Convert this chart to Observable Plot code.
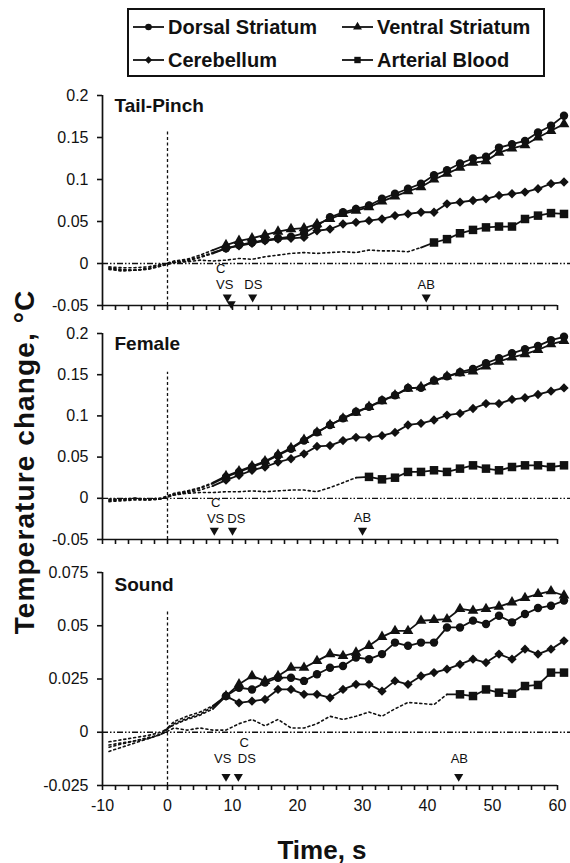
<!DOCTYPE html>
<html><head><meta charset="utf-8">
<script src="https://cdn.jsdelivr.net/npm/d3@7"></script>
<script src="https://cdn.jsdelivr.net/npm/@observablehq/plot@0.6"></script>
<style>
body{margin:0;background:#fff;}
#root{position:relative;width:570px;height:863px;overflow:hidden;font-family:"Liberation Sans",Arial,sans-serif;color:#111;}
.panel{position:absolute;left:0;}
.ytitle{position:absolute;left:25px;top:462px;transform:translate(-50%,-50%) rotate(-90deg);font-weight:bold;font-size:28px;letter-spacing:1.1px;white-space:nowrap;}
.xtitle{position:absolute;left:322px;top:850px;transform:translate(-50%,-50%);font-weight:bold;font-size:26px;white-space:nowrap;}
#legend{position:absolute;left:127px;top:8px;}
</style></head><body><div id="root"></div>
<script>
// ---- data ----
const times = [-9,-7,-5,-3,-1,1,3,5,7,9,11,13,15,17,19,21,23,25,27,29,31,33,35,37,39,41,43,45,47,49,51,53,55,57,59,61];
const seriesKeys = ["DS","VS","C","AB"];
const legendNames = ["Dorsal Striatum","Ventral Striatum","Cerebellum","Arterial Blood"];
const panelTitles = ["Tail-Pinch","Female","Sound"];
const xTickLabels = [-10,0,10,20,30,40,50,60];

// Tail-Pinch
const tpDS = [-0.006,-0.008,-0.008,-0.007,-0.003,0.002,0.004,0.008,0.013,0.018,0.022,0.025,0.028,0.030,0.032,0.036,0.045,0.055,0.061,0.065,0.069,0.077,0.083,0.089,0.095,0.105,0.111,0.119,0.125,0.127,0.138,0.142,0.146,0.156,0.164,0.176];
const tpVS = [-0.005,-0.007,-0.008,-0.006,-0.002,0.003,0.005,0.010,0.016,0.022,0.027,0.030,0.034,0.038,0.041,0.042,0.047,0.053,0.059,0.063,0.067,0.074,0.080,0.086,0.091,0.100,0.107,0.114,0.120,0.122,0.132,0.137,0.141,0.150,0.158,0.166];
const tpC  = [-0.007,-0.009,-0.008,-0.006,-0.003,0.001,0.003,0.007,0.012,0.018,0.021,0.024,0.027,0.029,0.030,0.031,0.039,0.041,0.047,0.049,0.051,0.053,0.057,0.059,0.061,0.061,0.071,0.073,0.075,0.077,0.081,0.083,0.085,0.089,0.095,0.097];
const tpAB = [-0.004,-0.005,-0.005,-0.004,-0.001,0.001,0.002,0.004,0.003,0.004,0.006,0.005,0.008,0.010,0.012,0.013,0.012,0.013,0.014,0.013,0.016,0.015,0.015,0.014,0.019,0.025,0.029,0.036,0.040,0.043,0.044,0.044,0.053,0.057,0.060,0.059];
// Female
const feDS = [-0.003,-0.002,-0.001,-0.002,-0.001,0.005,0.008,0.012,0.018,0.026,0.032,0.038,0.044,0.052,0.060,0.070,0.080,0.089,0.097,0.105,0.111,0.119,0.125,0.134,0.134,0.143,0.148,0.153,0.157,0.164,0.170,0.176,0.181,0.185,0.192,0.196];
const feVS = [-0.002,-0.001,0.000,-0.001,0.000,0.006,0.009,0.013,0.019,0.027,0.033,0.039,0.045,0.053,0.061,0.071,0.080,0.089,0.097,0.104,0.111,0.118,0.125,0.133,0.135,0.142,0.148,0.152,0.154,0.160,0.166,0.171,0.175,0.180,0.187,0.191];
const feC  = [-0.004,-0.003,-0.002,-0.002,-0.001,0.004,0.007,0.010,0.015,0.022,0.028,0.034,0.038,0.044,0.048,0.054,0.063,0.064,0.070,0.074,0.074,0.076,0.080,0.089,0.091,0.095,0.101,0.103,0.109,0.115,0.115,0.120,0.122,0.126,0.130,0.134];
const feAB = [-0.001,-0.001,0.000,-0.001,0.000,0.004,0.006,0.007,0.007,0.008,0.008,0.009,0.008,0.009,0.010,0.010,0.008,0.013,0.019,0.025,0.026,0.023,0.025,0.032,0.032,0.034,0.032,0.036,0.040,0.036,0.034,0.038,0.040,0.040,0.038,0.040];
// Sound
const soDS = [-0.007,-0.0055,-0.004,-0.0025,-0.001,0.004,0.0065,0.0085,0.012,0.017,0.0209,0.0201,0.0233,0.0256,0.0256,0.0241,0.0272,0.0303,0.0311,0.0351,0.0343,0.0367,0.0421,0.0406,0.0421,0.0421,0.0492,0.0492,0.0524,0.0508,0.0547,0.0516,0.0555,0.0583,0.0594,0.0618];
const soVS = [-0.009,-0.007,-0.005,-0.003,-0.001,0.005,0.0075,0.0095,0.0125,0.017,0.0225,0.0264,0.0241,0.0264,0.0303,0.0303,0.0335,0.0367,0.0358,0.0374,0.0406,0.0448,0.0476,0.0476,0.0524,0.0527,0.0531,0.0579,0.0571,0.0579,0.0590,0.0610,0.0631,0.0649,0.0662,0.0642];
const soC  = [-0.0045,-0.0035,-0.0025,-0.0015,0.000,0.0035,0.006,0.008,0.011,0.017,0.0138,0.0146,0.0154,0.0201,0.0201,0.0178,0.0178,0.0162,0.0201,0.0225,0.0225,0.0193,0.0241,0.0225,0.0264,0.0280,0.0296,0.0319,0.0343,0.0327,0.0367,0.0343,0.0390,0.0367,0.0390,0.0429];
const soAB = [-0.006,-0.005,-0.004,-0.003,-0.001,0.002,0.001,0.002,0.001,0.001,0.004,0.006,0.003,0.006,0.002,0.002,0.004,0.0075,0.006,0.0075,0.0095,0.0075,0.011,0.014,0.0135,0.013,0.0178,0.0178,0.0170,0.0201,0.0186,0.0181,0.0217,0.0222,0.0280,0.0280];

// last dotted point index (solid line starts here, markers after it)
const tpOnset = {DS:8, VS:8, C:8, AB:24};
const feOnset = {DS:8, VS:8, C:8, AB:19};
const soOnset = {DS:8, VS:8, C:8, AB:26};

// y ticks
const tpYTicks = [-0.05,0,0.05,0.1,0.15,0.2];
const feYTicks = [-0.05,0,0.05,0.1,0.15,0.2];
const soYTicks = [-0.025,0,0.025,0.05,0.075];

// latency arrows (time) and labels
const tpArrows = [{t:9.2,v:-0.040},{t:9.8,v:-0.048},{t:13.1,v:-0.040},{t:39.8,v:-0.040}];
const tpLabels = [{t:8.2,v:-0.0068,text:"C"},{t:8.8,v:-0.0252,text:"VS"},{t:13.2,v:-0.0252,text:"DS"},{t:39.8,v:-0.0252,text:"AB"}];
const feArrows = [{t:7.2,v:-0.039},{t:10.0,v:-0.039},{t:30,v:-0.039}];
const feLabels = [{t:7.4,v:-0.006,text:"C"},{t:7.4,v:-0.0245,text:"VS"},{t:10.6,v:-0.0245,text:"DS"},{t:30,v:-0.0235,text:"AB"}];
const soArrows = [{t:9.0,v:-0.0208},{t:10.9,v:-0.0208},{t:44.8,v:-0.0208}];
const soLabels = [{t:11.8,v:-0.0052,text:"C"},{t:8.5,v:-0.0127,text:"VS"},{t:12.2,v:-0.0127,text:"DS"},{t:44.9,v:-0.0127,text:"AB"}];

// ---- drawing ----
const symbols = {DS:"circle", VS:"triangle", C:"diamond2", AB:"square"};
const symR = {DS:4.2, VS:4.0, C:4.2, AB:4.8};
const INK = "#111";
const root = document.getElementById("root");

const panels = [
  {title:panelTitles[0], values:{DS:tpDS,VS:tpVS,C:tpC,AB:tpAB}, onset:tpOnset, domain:[-0.05,0.2], yticks:tpYTicks, stimTop:0.158, arrows:tpArrows, labels:tpLabels, top:80, inner:210, mb:12, titleDy:3, xlabels:false},
  {title:panelTitles[1], values:{DS:feDS,VS:feVS,C:feC,AB:feAB}, onset:feOnset, domain:[-0.05,0.2], yticks:feYTicks, stimTop:0.153, arrows:feArrows, labels:feLabels, top:318, inner:206, mb:12, titleDy:3, xlabels:false},
  {title:panelTitles[2], values:{DS:soDS,VS:soVS,C:soC,AB:soAB}, onset:soOnset, domain:[-0.025,0.075], yticks:soYTicks, stimTop:0.0575, arrows:soArrows, labels:soLabels, top:557, inner:213, mb:40, titleDy:5, xlabels:true}
];

function makePanel(p) {
  const rows = [];
  seriesKeys.forEach(k => {
    const vals = p.values[k];
    const on = p.onset[k];
    times.forEach((t, i) => rows.push({series:k, t, v:vals[i], i, on}));
  });
  const dotted = rows.filter(d => d.i <= d.on);
  const solid = rows.filter(d => d.i >= d.on);
  const marked = rows.filter(d => d.i > d.on);
  const [ymin] = p.domain;
  const mt = 15;
  const plot = Plot.plot({
    width: 570,
    height: mt + p.inner + p.mb,
    marginLeft: 102, marginRight: 13, marginTop: mt, marginBottom: p.mb,
    x: {domain: [-10, 60]},
    y: {domain: p.domain},
    style: {fontFamily: "Liberation Sans, Arial, sans-serif", fontSize: "16px", background: "transparent", overflow: "visible", color: INK},
    marks: [
      Plot.ruleY([0], {x1: -10, x2: 62, stroke: INK, strokeWidth: 1.3, strokeDasharray: "6,2,1.5,2,1.5,2"}),
      Plot.ruleX([0], {y1: ymin, y2: p.stimTop, stroke: INK, strokeWidth: 1.3, strokeDasharray: "3,2.5"}),
      Plot.line(dotted, {x: "t", y: "v", z: "series", stroke: INK, strokeWidth: 1.6, strokeDasharray: "2,3"}),
      Plot.line(solid, {x: "t", y: "v", z: "series", stroke: INK, strokeWidth: 1.8}),
      ...seriesKeys.map(k => Plot.dot(marked.filter(d => d.series === k), {x: "t", y: "v", symbol: symbols[k], r: symR[k], fill: INK, stroke: "none"})),
      Plot.dot(p.arrows, {x: "t", y: "v", symbol: "triangle", rotate: 180, r: 3.4, fill: INK, stroke: "none"}),
      Plot.text(p.labels, {x: "t", y: "v", text: "text", fontSize: 13, fill: INK}),
      Plot.text([p.title], {text: d => d, frameAnchor: "top-left", dx: 12, dy: p.titleDy, fontSize: 19, fontWeight: "bold", fill: INK}),
      Plot.ruleX([-10], {stroke: INK, strokeWidth: 1.7}),
      Plot.ruleY([ymin], {stroke: INK, strokeWidth: 1.7}),
      Plot.axisY({ticks: p.yticks, tickSize: 5, tickPadding: 9, tickFormat: d => String(d), fontSize: 16, label: null, stroke: INK, strokeWidth: 1.6, fill: INK}),
      Plot.axisX({ticks: d3.range(-10, 61, 2), tickSize: 5, tickPadding: 9,
        tickFormat: d => (p.xlabels && xTickLabels.includes(d)) ? String(d) : "",
        fontSize: 16, label: null, stroke: INK, strokeWidth: 1.6, fill: INK})
    ]
  });
  plot.classList.add("panel");
  plot.style.top = p.top + "px";
  root.appendChild(plot);
}
panels.forEach(makePanel);

// legend
const lw = 418, lh = 69;
const leg = d3.select(root).append("svg").attr("id", "legend").attr("width", lw).attr("height", lh);
leg.append("rect").attr("x", 1).attr("y", 1).attr("width", lw - 2).attr("height", lh - 2).attr("fill", "white").attr("stroke", INK).attr("stroke-width", 2);
const legPos = [{x: 6, y: 19}, {x: 215, y: 19}, {x: 6, y: 52}, {x: 215, y: 52}];
const legR = {DS: 3.3, VS: 3.3, C: 3.3, AB: 3.6};
const symMap = {circle: d3.symbolCircle, triangle: d3.symbolTriangle, diamond2: d3.symbolDiamond2, square: d3.symbolSquare};
seriesKeys.forEach((k, i) => {
  const pos = legPos[i];
  const g = leg.append("g").attr("transform", `translate(${pos.x},${pos.y})`);
  g.append("line").attr("x1", 0).attr("x2", 31).attr("stroke", INK).attr("stroke-width", 1.8);
  g.append("path").attr("transform", "translate(15.5,0)").attr("fill", INK)
    .attr("d", d3.symbol(symMap[symbols[k]], Math.PI * legR[k] * legR[k])());
  g.append("text").attr("x", 35).attr("y", 0).attr("dy", "0.35em")
    .attr("font-size", 20).attr("font-weight", "bold").attr("fill", INK)
    .attr("font-family", "Liberation Sans, Arial, sans-serif").text(legendNames[i]);
});

// axis titles
const yt = document.createElement("div"); yt.className = "ytitle"; yt.textContent = "Temperature change, °C"; root.appendChild(yt);
const xt = document.createElement("div"); xt.className = "xtitle"; xt.textContent = "Time, s"; root.appendChild(xt);
</script></body></html>
